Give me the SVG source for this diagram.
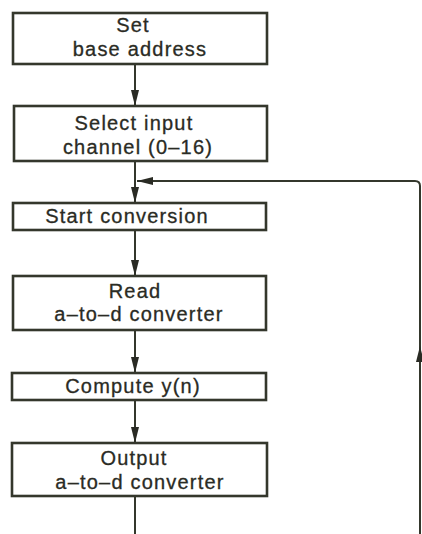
<svg xmlns="http://www.w3.org/2000/svg" width="422" height="534" viewBox="0 0 422 534">
<defs>
<style>
.box{fill:none;stroke:#34372c;stroke-width:2.6}
.ln{fill:none;stroke:#34372c;stroke-width:2}
.t{font-family:"Liberation Sans",Arial,sans-serif;font-size:20px;fill:#2a2b24;text-anchor:middle;letter-spacing:1.2px;stroke:#2a2b24;stroke-width:0.3}
</style>
<marker id="ah2" viewBox="0 0 16 8" refX="16" refY="4" markerWidth="16" markerHeight="8" orient="auto" markerUnits="userSpaceOnUse">
<path d="M0,0 L16,4 L0,8 z" fill="#2a2b24"/>
</marker>
</defs>
<rect width="422" height="534" fill="#ffffff"/>
<g id="connectors">
<line class="ln" x1="135" y1="64" x2="135" y2="106" marker-end="url(#ah2)"/>
<line class="ln" x1="135" y1="161" x2="135" y2="203" marker-end="url(#ah2)"/>
<line class="ln" x1="135" y1="230" x2="135" y2="276" marker-end="url(#ah2)"/>
<line class="ln" x1="135" y1="330" x2="135" y2="373" marker-end="url(#ah2)"/>
<line class="ln" x1="135" y1="400" x2="135" y2="443" marker-end="url(#ah2)"/>
<line class="ln" x1="135" y1="496" x2="135" y2="534"/>
<path class="ln" d="M420,534 L420,186 Q420,181 415,181 L137,181" marker-end="url(#ah2)"/>
<line class="ln" x1="420" y1="380" x2="420" y2="346" marker-end="url(#ah2)"/>
</g>
<g id="n1">
<rect class="box" x="13" y="13" width="254" height="51"/>
<text class="t" x="133" y="32">Set</text>
<text class="t" x="140" y="56">base address</text>
</g>
<g id="n2">
<rect class="box" x="14" y="106" width="253" height="55"/>
<text class="t" x="134" y="130">Select input</text>
<text class="t" x="138" y="154">channel (0–16)</text>
</g>
<g id="n3">
<rect class="box" x="13" y="203" width="253" height="27"/>
<text class="t" x="127" y="223">Start conversion</text>
</g>
<g id="n4">
<rect class="box" x="13" y="276" width="253" height="54"/>
<text class="t" x="135" y="298">Read</text>
<text class="t" x="139" y="321">a–to–d converter</text>
</g>
<g id="n5">
<rect class="box" x="12" y="373" width="254" height="27"/>
<text class="t" x="133" y="393">Compute y(n)</text>
</g>
<g id="n6">
<rect class="box" x="12" y="443" width="255" height="53"/>
<text class="t" x="134" y="465">Output</text>
<text class="t" x="140" y="489">a–to–d converter</text>
</g>
</svg>
